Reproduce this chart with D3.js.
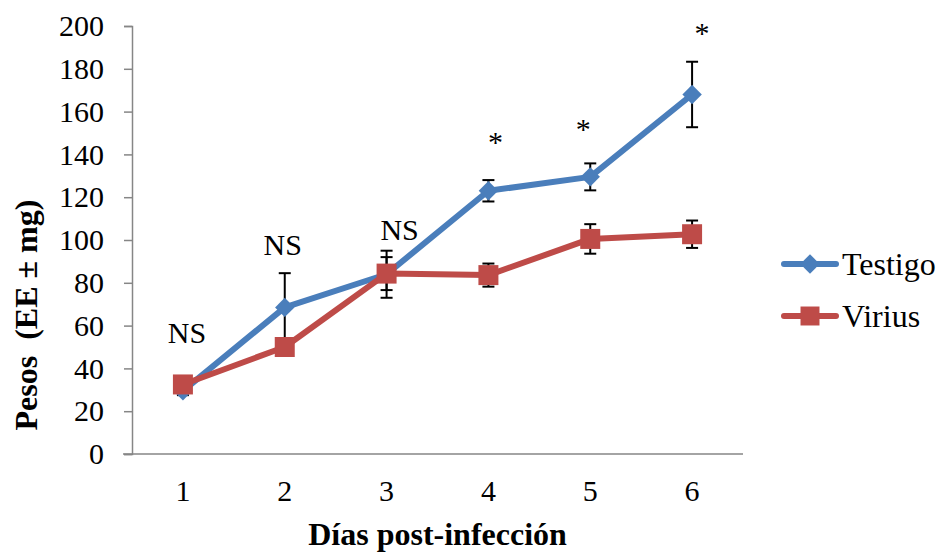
<!DOCTYPE html>
<html lang="es">
<head>
  <meta charset="UTF-8">
  <title>Pesos por día post-infección</title>
  <script src="https://d3js.org/d3.v7.min.js"></script>
  <style>
    body { margin: 0; background: #fff; }
    text { font-family: "Liberation Serif", "Times New Roman", serif; }
  </style>
</head>
<body>
  <svg width="939" height="552"></svg>

  <script>
    // data
    const days = ["1", "2", "3", "4", "5", "6"];
    const testigo = [29.5, 68.5, 84, 123, 129.5, 168];
    const testigoErr = [2, 16, 11, 5, 6.3, 15.3];
    const virius = [32.5, 50, 84.3, 83.6, 100.5, 102.7];
    const viriusErr = [2, 3, 7.7, 5.4, 6.9, 6.4];
    const yTicks = [0, 20, 40, 60, 80, 100, 120, 140, 160, 180, 200];
    const annotLabels = ["NS", "NS", "NS", "*", "*", "*"];
    const annotLevel = [52, 93, 100, 147, 153, 198];

    const margin = { top: 26, right: 196, bottom: 98, left: 132 };
    const width = 939 - margin.left - margin.right;
    const height = 552 - margin.top - margin.bottom;

    const svg = d3.select("svg")
      .append("g")
      .attr("transform", "translate(" + margin.left + "," + margin.top + ")");

    const x = d3.scaleBand()
      .domain(days)
      .range([0, width]);

    const y = d3.scaleLinear()
      .domain([0, 200])
      .range([height, 0]);

    const cx = d => x(d) + x.bandwidth() / 2;

    // Y axis
    const yAxis = svg.append("g")
      .call(d3.axisLeft(y).tickValues(yTicks).tickSize(8).tickPadding(20))
      .attr("font-family", "Liberation Serif");
    yAxis.select(".domain").attr("stroke", "#868686").attr("stroke-width", 1.5);
    yAxis.selectAll(".tick line").attr("stroke", "#868686").attr("stroke-width", 1.5);
    yAxis.selectAll("text").style("font-size", "30px").attr("fill", "#000");

    // X axis, no tick marks, line starts a little left of the y axis
    const xAxis = svg.append("g")
      .attr("transform", "translate(0," + height + ")")
      .call(d3.axisBottom(x).tickSize(0).tickPadding(26))
      .attr("font-family", "Liberation Serif");
    xAxis.select(".domain").remove();
    xAxis.append("line")
      .attr("x1", -9).attr("x2", width)
      .attr("stroke", "#868686").attr("stroke-width", 1.5);
    xAxis.selectAll("text").style("font-size", "30px").attr("fill", "#000");

    // axis titles
    svg.append("text")
      .attr("x", width / 2)
      .attr("y", height + 91)
      .attr("text-anchor", "middle")
      .style("font-size", "32px")
      .style("font-weight", "bold")
      .text("Días post-infección");

    svg.append("text")
      .attr("transform", "translate(" + (37 - margin.left) + "," + (315 - margin.top) + ") rotate(-90)")
      .attr("text-anchor", "middle")
      .style("font-size", "32px")
      .style("font-weight", "bold")
      .style("white-space", "pre")
      .text("Pesos  (EE ± mg)");

    function drawSeries(vals, errs, color, shape, size) {
      const g = svg.append("g");
      const pts = days.map((d, i) => ({ d: d, v: vals[i], e: errs[i] }));

      // error bars
      const eb = g.selectAll(".err").data(pts).enter().append("g")
        .attr("stroke", "#000").attr("stroke-width", 2);
      eb.append("line")
        .attr("x1", p => cx(p.d)).attr("x2", p => cx(p.d))
        .attr("y1", p => y(p.v - p.e)).attr("y2", p => y(p.v + p.e));
      eb.append("line")
        .attr("x1", p => cx(p.d) - 6).attr("x2", p => cx(p.d) + 6)
        .attr("y1", p => y(p.v + p.e)).attr("y2", p => y(p.v + p.e));
      eb.append("line")
        .attr("x1", p => cx(p.d) - 6).attr("x2", p => cx(p.d) + 6)
        .attr("y1", p => y(p.v - p.e)).attr("y2", p => y(p.v - p.e));

      g.append("path")
        .datum(pts)
        .attr("fill", "none")
        .attr("stroke", color)
        .attr("stroke-width", 6)
        .attr("stroke-linejoin", "round")
        .attr("d", d3.line().x(p => cx(p.d)).y(p => y(p.v)));

      g.selectAll(".mark").data(pts).enter().append("path")
        .attr("transform", p => "translate(" + cx(p.d) + "," + y(p.v) + ")")
        .attr("d", d3.symbol().type(shape).size(size))
        .attr("fill", color);
    }

    drawSeries(testigo, testigoErr, "#4a7ebb", d3.symbolDiamond2, 240);
    drawSeries(virius, viriusErr, "#be4b48", d3.symbolSquare, 400);

    // significance labels ("*" levels are glyph centres)
    const annotDx = [4, -2, 13, 7, -7, 10];
    svg.selectAll(".annot").data(annotLabels).enter().append("text")
      .attr("x", (t, i) => cx(days[i]) + annotDx[i])
      .attr("y", (t, i) => y(annotLevel[i]) + (t === "*" ? 12.6 : 0))
      .attr("text-anchor", "middle")
      .style("font-size", "30px")
      .text(t => t);

    // legend
    const legend = svg.append("g")
      .attr("transform", "translate(" + (782 - margin.left) + "," + (264 - margin.top) + ")");
    const legendItems = [
      { name: "Testigo", color: "#4a7ebb", shape: d3.symbolDiamond2, size: 240 },
      { name: "Virius", color: "#be4b48", shape: d3.symbolSquare, size: 360 }
    ];
    const li = legend.selectAll(".li").data(legendItems).enter().append("g")
      .attr("transform", (d, i) => "translate(0," + i * 52 + ")");
    li.append("line")
      .attr("x1", 2).attr("x2", 54)
      .attr("stroke", d => d.color).attr("stroke-width", 6)
      .attr("stroke-linecap", "round");
    li.append("path")
      .attr("transform", "translate(28,0)")
      .attr("d", d => d3.symbol().type(d.shape).size(d.size)())
      .attr("fill", d => d.color);
    li.append("text")
      .attr("x", 60).attr("y", 11)
      .style("font-size", "32px")
      .text(d => d.name);
  </script>
</body>
</html>
